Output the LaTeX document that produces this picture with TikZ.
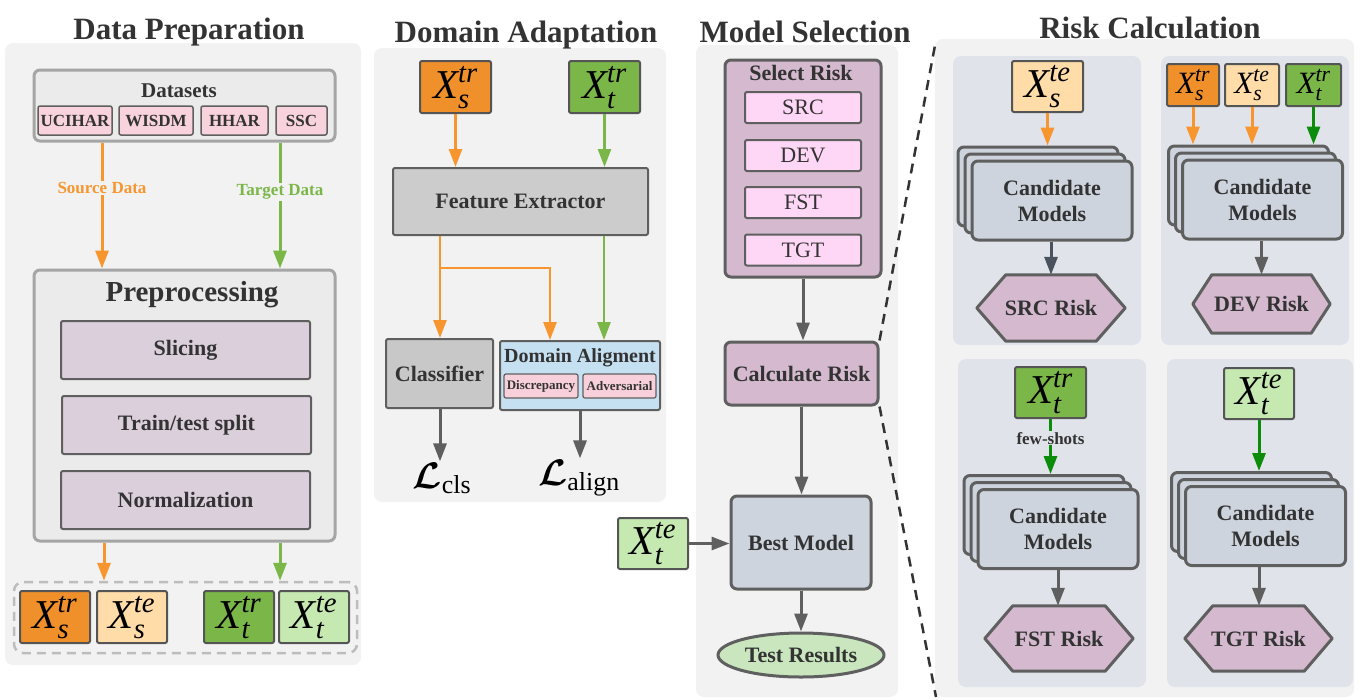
\documentclass[tikz,border=0pt]{standalone}
\usepackage{fix-cm}
\usepackage{amsmath}
\usepackage{fontspec}
\setmainfont{Liberation Serif}
\usetikzlibrary{arrows.meta,shapes.geometric}
\pgfdeclarelayer{back}
\pgfdeclarelayer{mid}
\pgfsetlayers{back,mid,main}
\newcommand\myfs[1]{\fontsize{#1}{#1}\selectfont}
\newcommand\myX[2]{$\text{\itshape X}^{\text{\itshape #1}}_{\text{\itshape #2}}$}
\definecolor{panel}{HTML}{F2F2F2}
\definecolor{subp}{HTML}{E0E3E9}
\definecolor{dsfill}{HTML}{EBEBEB}
\definecolor{dsdraw}{HTML}{A5A5A5}
\definecolor{dspink}{HTML}{F8D3DE}
\definecolor{pboxc}{HTML}{DBCFDC}
\definecolor{bord}{HTML}{5F5F5F}
\definecolor{xbord}{HTML}{555555}
\definecolor{txt}{HTML}{333333}
\definecolor{orng}{HTML}{F0902A}
\definecolor{lorng}{HTML}{FFDCA8}
\definecolor{grn}{HTML}{7AB648}
\definecolor{lgrn}{HTML}{C6E8B1}
\definecolor{oarrc}{HTML}{F7962F}
\definecolor{garrc}{HTML}{7AB648}
\definecolor{dgrn}{HTML}{0B8C0B}
\definecolor{gyarr}{HTML}{5F5F5F}
\definecolor{feg}{HTML}{CCCCCC}
\definecolor{clsg}{HTML}{C8C8C8}
\definecolor{dab}{HTML}{C5E0F1}
\definecolor{dapink}{HTML}{F8D0DC}
\definecolor{selr}{HTML}{D4B9CF}
\definecolor{srcp}{HTML}{FFD7F6}
\definecolor{bestm}{HTML}{CDD4DD}
\definecolor{testr}{HTML}{C9E6BF}
\definecolor{slate}{HTML}{4A5260}
\definecolor{dashc}{HTML}{BDBDBD}
\newcommand\myhex[2]{%
  \begin{pgfonlayer}{mid}
    \draw[draw=bord, fill=selr, line width=3pt, line join=round]
      (#1.west) -- ([xshift=#2]#1.north west) -- ([xshift=-#2]#1.north east)
      -- (#1.east) -- ([xshift=-#2]#1.south east) -- ([xshift=#2]#1.south west) -- cycle;
  \end{pgfonlayer}}
\begin{document}
\begin{tikzpicture}[x=1pt,y=-1pt,
  wh/.style 2 args={minimum width=#1pt, minimum height=#2pt},
  title/.style={font=\bfseries\myfs{31}, text=txt, inner sep=0pt, anchor=base},
  lbl/.style={font=\bfseries\myfs{22}, text=txt},
  dsbox/.style={draw=dsdraw, fill=dsfill, line width=3pt, rounded corners=6pt, inner sep=0pt},
  dsub/.style={draw=bord, fill=dspink, line width=1.5pt, rounded corners=2pt, inner sep=0pt, font=\bfseries\myfs{17}, text=txt, wh={#1}{29}},
  pbox/.style={draw=bord, fill=pboxc, line width=2pt, rounded corners=2pt, inner sep=0pt, font=\bfseries\myfs{22}, text=txt, wh={249}{58}},
  xbox/.style={draw=xbord, line width=2pt, rounded corners=2pt, inner sep=0pt, font=\myfs{41}, text height=26pt, text depth=4pt},
  xsmall/.style={font=\myfs{31}, text height=20pt, text depth=4pt},
  gbox/.style={draw=bord, line width=2pt, rounded corners=2pt, inner sep=0pt, font=\bfseries\myfs{22}, text=txt},
  pinkb/.style={draw=bord, fill=dapink, line width=1.2pt, rounded corners=2pt, inner sep=0pt, font=\bfseries\myfs{13}, text=txt},
  mbox/.style={draw=bord, line width=3pt, rounded corners=6pt, inner sep=0pt, font=\bfseries\myfs{22}, text=txt},
  rbox/.style={draw=bord, fill=srcp, line width=2pt, rounded corners=2pt, inner sep=0pt, font=\myfs{22}, text=txt, wh={116}{31}},
  cand/.style={draw=bord, fill=bestm, line width=3pt, rounded corners=6pt, inner sep=0pt, align=center, font=\bfseries\fontsize{22}{26}\selectfont, text=txt, wh={160}{79}},
  hexn/.style={inner sep=0pt, font=\bfseries\myfs{22}, text=txt},
  loss/.style={anchor=base, inner sep=1pt, font=\myfs{37}},
  tip/.style={-{Triangle[width=13pt,length=18pt]}},
  oarr/.style={tip, draw=oarrc, line width=3pt},
  garr/.style={tip, draw=garrc, line width=3pt},
  dgarr/.style={tip, draw=dgrn, line width=3pt},
  gyar/.style={tip, draw=gyarr, line width=3pt},
  dashline/.style={draw=txt, line width=2.5pt, dash pattern=on 10pt off 7pt},
]
\useasboundingbox (0,0) rectangle (1364,699);

% ---------- panels ----------
\begin{pgfonlayer}{back}
  \fill[panel, rounded corners=8pt] (5,43) rectangle (361,665);
  \fill[panel, rounded corners=8pt] (374,48) rectangle (666,502);
  \fill[panel, rounded corners=8pt] (696,45) rectangle (898,697);
  \fill[panel, rounded corners=8pt] (935,39) rectangle (1354,697);
  \fill[subp, rounded corners=8pt] (953,56) rectangle (1141,345);
  \fill[subp, rounded corners=8pt] (1161,56) rectangle (1349,345);
  \fill[subp, rounded corners=8pt] (958,359) rectangle (1146,687);
  \fill[subp, rounded corners=8pt] (1167,359) rectangle (1353,687);
\end{pgfonlayer}

% ---------- titles ----------
\node[title] (tDP) at (189,39) {Data Preparation};
\node[title] (tDA) at (526,42) {Domain Adaptation};
\node[title] (tMS) at (805,42) {Model Selection};
\node[title] (tRC) at (1150,38) {Risk Calculation};

% ---------- Data Preparation ----------
\node[dsbox, wh={301}{71}] (ds) at (184.5,105.5) {};
\node[lbl, font=\bfseries\myfs{21}, anchor=base, inner sep=0pt] (dsT) at (179,97) {Datasets};
\node[dsub=74] (d1) at (75,120.5) {UCIHAR};
\node[dsub=74] (d2) at (156,120.5) {WISDM};
\node[dsub=67] (d3) at (234.5,120.5) {HHAR};
\node[dsub=51] (d4) at (301.5,120.5) {SSC};

\node[dsbox, wh={301}{271}] (pp) at (184.5,405.5) {};
\node[lbl, font=\bfseries\myfs{29}, anchor=base, inner sep=0pt] (ppT) at (192,301) {Preprocessing};
\node[pbox] (sl) at (185.5,350) {Slicing};
\node[pbox] (tt) at (186.5,425) {Train/test split};
\node[pbox] (nm) at (185.5,500) {Normalization};

\coordinate (xS) at (102,0);
\coordinate (xT) at (280,0);
\coordinate (xS2) at (104,0);
\draw[oarr] (ds.south -| xS) -- node[pos=0.36, fill=panel, inner sep=1.5pt, font=\bfseries\myfs{17}, text=oarrc] (srcL) {Source Data} (pp.north -| xS);
\draw[garr] (ds.south -| xT) -- node[pos=0.39, fill=panel, inner sep=1.5pt, font=\bfseries\myfs{17}, text=garrc] (tgtL) {Target Data} (pp.north -| xT);

\node[draw=dashc, line width=2.5pt, dash pattern=on 9pt off 6pt, rounded corners=9pt, inner sep=0pt, wh={343}{71}] (db) at (185.5,617.5) {};
\node[xbox, fill=orng, wh={70}{52}] (p1) at (55,617) {\myX{tr}{s}};
\node[xbox, fill=lorng, wh={70}{52}] (p2) at (132,617) {\myX{te}{s}};
\node[xbox, fill=grn, wh={70}{52}] (p3) at (239,617) {\myX{tr}{t}};
\node[xbox, fill=lgrn, wh={70}{52}] (p4) at (314,617) {\myX{te}{t}};
\draw[oarr] (pp.south -| xS2) -- (db.north -| xS2);
\draw[garr] (pp.south -| xT) -- (db.north -| xT);

% ---------- Domain Adaptation ----------
\node[xbox, fill=orng, wh={71}{52}] (dXs) at (455.5,87) {\myX{tr}{s}};
\node[xbox, fill=grn, wh={71}{52}] (dXt) at (604.5,87) {\myX{tr}{t}};
\node[gbox, fill=feg, wh={255}{67}] (fe) at (520.5,201.5) {Feature Extractor};
\node[gbox, fill=clsg, wh={107}{69}] (cls) at (439.5,373.5) {Classifier};
\node[gbox, fill=dab, wh={160}{69}] (da) at (580,375.5) {};
\node[lbl, font=\bfseries\myfs{20}, anchor=base, inner sep=0pt] (daT) at (580,362) {Domain Aligment};
\node[pinkb, wh={74}{24}] (disc) at (541,386) {Discrepancy};
\node[pinkb, wh={73}{24}] (adv) at (619.5,386) {Adversarial};

\coordinate (xC) at (440,0);
\coordinate (xA) at (550,0);
\coordinate (xG) at (604,0);
\coordinate (yB) at (0,268);
\coordinate (xL) at (580,0);
\draw[oarr, line width=2.5pt] (dXs.south) -- (dXs.south |- fe.north);
\draw[garr, line width=2.5pt] (dXt.south) -- (dXt.south |- fe.north);
\draw[oarr, line width=2.5pt] (fe.south -| xC) -- (cls.north -| xC);
\draw[oarr, line width=2.5pt] (yB -| xC) -- (yB -| xA) -- (da.north -| xA);
\draw[garr, line width=2.5pt] (fe.south -| xG) -- (da.north -| xG);

\node[loss] (lc) at (442,488) {$\boldsymbol{\mathcal{L}}_{\text{cls}}$};
\node[loss] (la) at (579,485) {$\boldsymbol{\mathcal{L}}_{\text{align}}$};
\draw[gyar] (cls.south -| xC) -- (lc.north -| xC);
\draw[gyar] (da.south -| xL) -- (la.north -| xL);

% ---------- Model Selection ----------
\node[mbox, fill=selr, wh={156}{217}] (sr) at (803,168.5) {};
\node[lbl, anchor=base, inner sep=0pt] (srT) at (801,80) {Select Risk};
\node[rbox] (rs1) at (803,107.5) {SRC};
\node[rbox] (rs2) at (803,155.5) {DEV};
\node[rbox] (rs3) at (803,202.5) {FST};
\node[rbox] (rs4) at (803,250) {TGT};
\node[mbox, fill=selr, wh={153}{63}] (cr) at (801.5,373.5) {Calculate Risk};
\node[mbox, fill=bestm, wh={140}{93}] (bm) at (801,542.5) {Best Model};
\node[xbox, fill=lgrn, wh={70}{51}] (mXt) at (653,543.5) {\myX{te}{t}};
\node[ellipse, draw=bord, fill=testr, line width=3pt, inner sep=0pt, font=\bfseries\myfs{22}, text=txt, wh={166}{44}] (trs) at (801,655) {Test Results};

\draw[gyar] (sr.south) -- (sr.south |- cr.north);
\draw[gyar] (cr.south) -- (cr.south |- bm.north);
\draw[gyar] (mXt.east) -- (bm.west |- mXt.east);
\draw[gyar] (bm.south) -- (bm.south |- trs.north);

\coordinate (rcT) at (936,40);
\coordinate (rcB) at (936,697);
\draw[dashline] (cr.north east) -- (rcT);
\draw[dashline] (cr.south east) -- (rcB);

% ---------- Risk Calculation: SRC ----------
\node[xbox, fill=lorng, wh={71}{51}] (aX) at (1047.5,86.5) {\myX{te}{s}};
\node[cand] (a3) at (1038,186.5) {};
\node[cand] (a2) at (1045,193.5) {};
\node[cand] (a1) at (1052,200.5) {Candidate\\Models};
\node[hexn, wh={148}{66}] (ah) at (1051,308) {SRC Risk};
\myhex{ah}{29pt}
\draw[oarr] (aX.south) -- (aX.south |- a3.north);
\draw[tip, draw=slate, line width=3pt] (a1.south -| ah.north) -- (ah.north);

% ---------- DEV ----------
\node[xbox, xsmall, fill=orng, wh={52}{42}] (bX1) at (1193,85) {\myX{tr}{s}};
\node[xbox, xsmall, fill=lorng, wh={54}{42}] (bX2) at (1252,85) {\myX{te}{s}};
\node[xbox, xsmall, fill=grn, wh={55}{42}] (bX3) at (1313.5,85) {\myX{tr}{t}};
\node[cand] (b3) at (1248.5,185.5) {};
\node[cand] (b2) at (1255.5,192.5) {};
\node[cand] (b1) at (1262.5,199.5) {Candidate\\Models};
\node[hexn, wh={137}{58}] (bh) at (1261.5,304) {DEV Risk};
\myhex{bh}{19pt}
\draw[oarr] (bX1.south) -- (bX1.south |- b3.north);
\draw[oarr] (bX2.south) -- (bX2.south |- b3.north);
\draw[dgarr] (bX3.south) -- (bX3.south |- b3.north);
\draw[gyar] (b1.south -| bh.north) -- (bh.north);

% ---------- FST ----------
\node[xbox, fill=grn, wh={71}{51}] (cX) at (1050.5,392.5) {\myX{tr}{t}};
\node[cand] (c3) at (1044,515) {};
\node[cand] (c2) at (1051,522) {};
\node[cand] (c1) at (1058,529) {Candidate\\Models};
\node[hexn, wh={148}{65}] (ch) at (1059,638.5) {FST Risk};
\myhex{ch}{28pt}
\draw[dgarr] (cX.south) -- node[pos=0.35, fill=subp, inner sep=1pt, font=\bfseries\myfs{17}, text=txt] (fsL) {few-shots} (cX.south |- c3.north);
\draw[gyar] (c1.south) -- (c1.south |- ch.north);

% ---------- TGT ----------
\node[xbox, fill=lgrn, wh={70}{51}] (dX) at (1259,393.5) {\myX{te}{t}};
\node[cand] (e3) at (1251.5,512) {};
\node[cand] (e2) at (1258.5,519) {};
\node[cand] (e1) at (1265.5,526) {Candidate\\Models};
\node[hexn, wh={147}{65}] (eh) at (1258.5,638.5) {TGT Risk};
\myhex{eh}{28pt}
\draw[dgarr] (dX.south) -- (dX.south |- e3.north);
\draw[gyar] (e1.south -| dX.south) -- (eh.north -| dX.south);

\end{tikzpicture}
\end{document}
